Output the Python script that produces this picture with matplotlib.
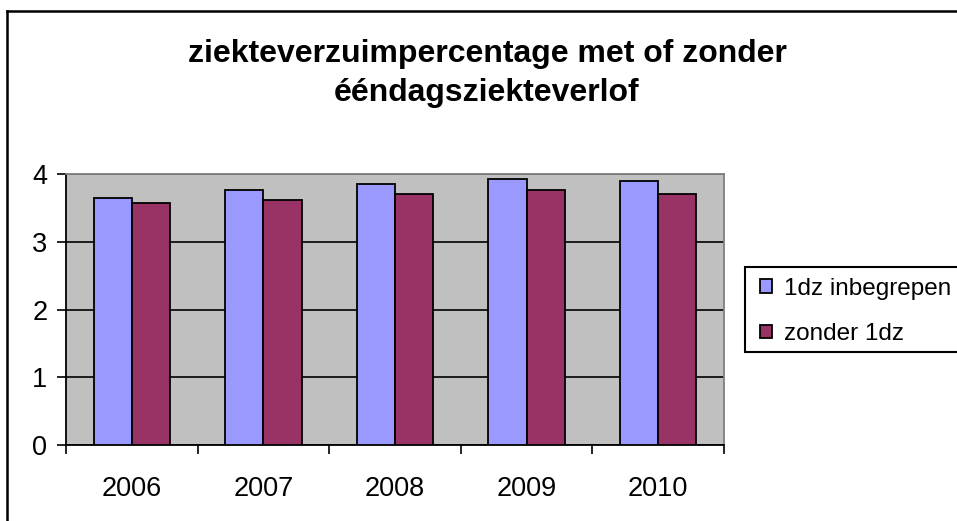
"""ziekteverzuim met of zonder eendagsziekteverlof"""
import numpy as np
from matplotlib import pyplot as plt
from matplotlib.lines import Line2D
from matplotlib.patches import Rectangle

plt.rcParams["font.family"] = ["Liberation Sans", "DejaVu Sans"]

YEARS = ["2006", "2007", "2008", "2009", "2010"]
MET_1DZ = [3.65, 3.77, 3.85, 3.92, 3.89]
ZONDER_1DZ = [3.57, 3.62, 3.71, 3.77, 3.71]
LABELS = ["1dz inbegrepen", "zonder 1dz"]
TITLE = "ziekteverzuimpercentage met of zonder\nééndagsziekteverlof"

BLUE = "#9999FF"
MAROON = "#993366"
W, H = 957, 521

fig = plt.figure(figsize=(W / 100, H / 100), dpi=100)
ax = fig.add_axes([66 / W, 1 - 445 / H, (724 - 66) / W, (445 - 174) / H])
ax.set_facecolor("#C0C0C0")

x = np.arange(len(YEARS))
bw = 0.29
ax.bar(x - bw / 2, MET_1DZ, bw, color=BLUE, edgecolor="black", linewidth=1.3,
       label=LABELS[0], zorder=3)
ax.bar(x + bw / 2, ZONDER_1DZ, bw, color=MAROON, edgecolor="black", linewidth=1.3,
       label=LABELS[1], zorder=3)

ax.set_xlim(-0.5, len(YEARS) - 0.5)
ax.set_ylim(0, 4)
ax.set_yticks(range(5))
ax.yaxis.grid(True, color="black", linewidth=1.2, zorder=1)
ax.set_axisbelow(True)

ax.set_xticks(x)
ax.set_xticklabels(YEARS)
ax.set_xticks(np.arange(-0.5, len(YEARS)), minor=True)
ax.tick_params(axis="x", which="major", length=0, pad=22, labelsize=19.5)
ax.tick_params(axis="x", which="minor", length=6.5, width=1.2, direction="out")
ax.tick_params(axis="y", length=6.5, width=1.2, direction="out", pad=7, labelsize=19.5)

for side in ("left", "bottom"):
    ax.spines[side].set_color("black")
    ax.spines[side].set_linewidth(1.3)
for side in ("top", "right"):
    ax.spines[side].set_color("#808080")
    ax.spines[side].set_linewidth(1.3)

fig.text(487 / W, 1 - 39 / H, TITLE, ha="center", va="top", fontsize=23,
         fontweight="bold", linespacing=1.4)

# legend frame runs past the right edge of the picture
fig.add_artist(Rectangle((745 / W, 1 - 352 / H), 240 / W, 85 / H,
                         facecolor="white", edgecolor="black", lw=1.5))
fig.legend(loc="upper left", bbox_to_anchor=(760 / W, 1 - 278 / H),
           fontsize=17.5, frameon=False, borderaxespad=0, borderpad=0,
           labelspacing=0.95, handlelength=0.5, handleheight=0.5,
           handletextpad=0.5)

# chart frame, cut off on the right and at the bottom
fig.add_artist(Line2D([7.5 / W, 1.01], [1 - 10.5 / H] * 2, color="black", lw=1.8))
fig.add_artist(Line2D([7.5 / W] * 2, [-0.01, 1 - 10.5 / H], color="black", lw=1.8))

fig.savefig("out.png", dpi=100)
